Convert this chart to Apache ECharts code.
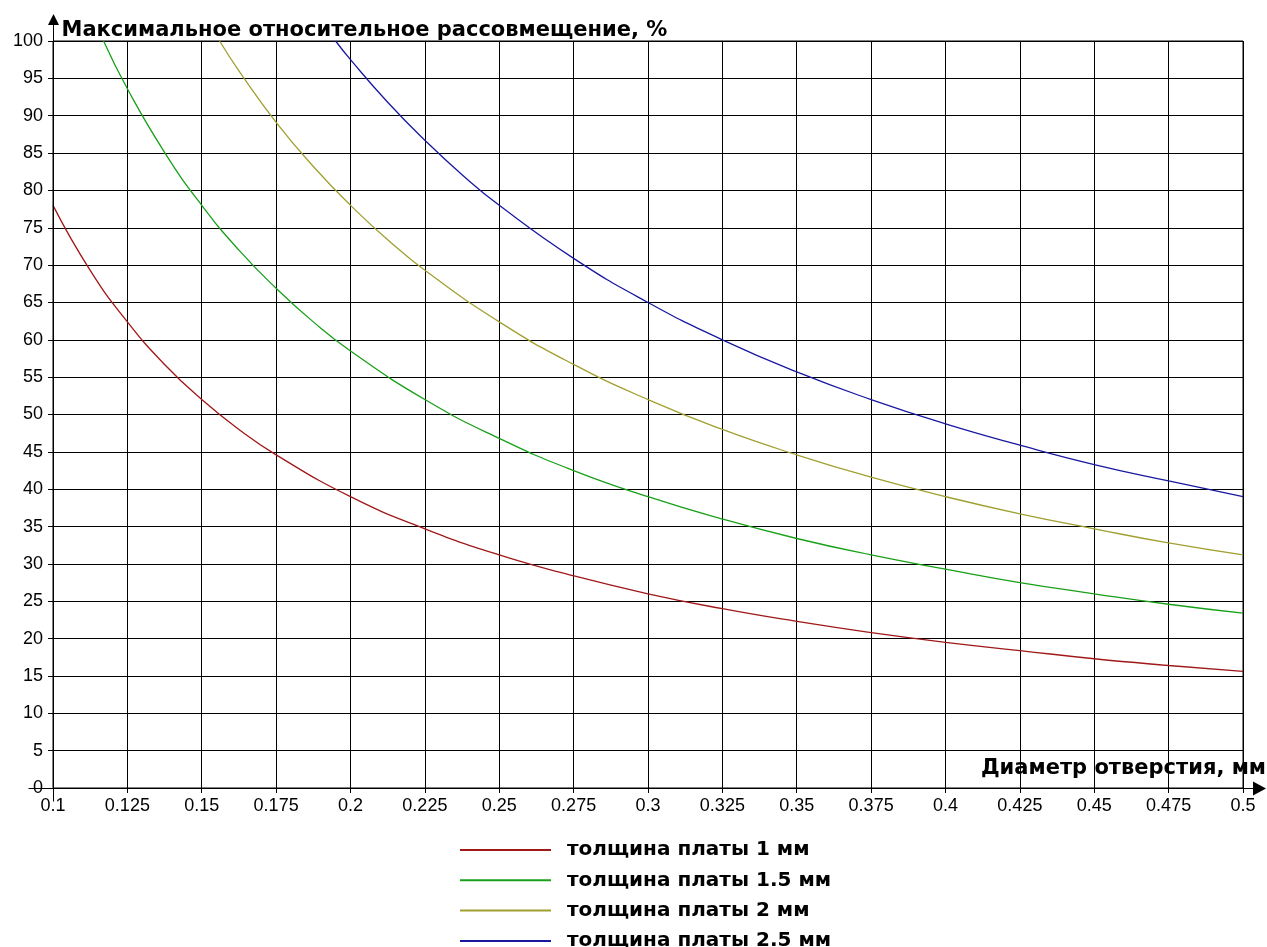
<!DOCTYPE html>
<html>
<head>
<meta charset="utf-8">
<script src="https://cdn.jsdelivr.net/npm/echarts@6/dist/echarts.min.js"></script>
<style>
html,body{margin:0;padding:0;background:#fff;}
#chart{width:1267px;height:947px;}
</style>
</head>
<body>
<div id="chart"></div>
<script>
// ---- data ----
const seriesNames = ['толщина платы 1 мм', 'толщина платы 1.5 мм', 'толщина платы 2 мм', 'толщина платы 2.5 мм'];
const seriesColors = ['#a01818', '#18a018', '#a0a030', '#1818a0'];

const x1 = [0.1, 0.1125, 0.125, 0.1375, 0.15, 0.1625, 0.175, 0.2, 0.225, 0.25, 0.275, 0.3, 0.325, 0.35, 0.375, 0.4, 0.425, 0.45, 0.475, 0.5];
const y1 = [78, 69.3, 62.4, 56.7, 52, 48, 44.6, 39, 34.7, 31.2, 28.4, 26, 24, 22.3, 20.8, 19.5, 18.4, 17.3, 16.4, 15.6];

const x15 = [0.117, 0.125, 0.1375, 0.15, 0.1625, 0.175, 0.1875, 0.2, 0.225, 0.25, 0.275, 0.3, 0.325, 0.35, 0.375, 0.4, 0.425, 0.45, 0.475, 0.5];
const y15 = [100, 93.6, 85.1, 78, 72, 66.9, 62.4, 58.5, 52, 46.8, 42.5, 39, 36, 33.4, 31.2, 29.3, 27.5, 26, 24.6, 23.4];

const x2 = [0.156, 0.1625, 0.175, 0.1875, 0.2, 0.2125, 0.225, 0.25, 0.275, 0.3, 0.325, 0.35, 0.375, 0.4, 0.425, 0.45, 0.475, 0.5];
const y2 = [100, 96, 89.1, 83.2, 78, 73.4, 69.3, 62.4, 56.7, 52, 48, 44.6, 41.6, 39, 36.7, 34.7, 32.8, 31.2];

const x25 = [0.195, 0.2, 0.2125, 0.225, 0.2375, 0.25, 0.275, 0.3, 0.325, 0.35, 0.375, 0.4, 0.425, 0.45, 0.475, 0.5];
const y25 = [100, 97.5, 91.8, 86.7, 82.1, 78, 70.9, 65, 60, 55.7, 52, 48.75, 45.9, 43.3, 41.1, 39];

const xTicks = {min: 0.1, max: 0.5, step: 0.025};
const yTicks = {min: 0, max: 100, step: 5};

const yTitle = 'Максимальное относительное рассовмещение, %';
const xTitle = 'Диаметр отверстия, мм';

// ---- chart ----
const zip = (xs, ys) => xs.map((x, i) => [x, ys[i]]);
const allData = [zip(x1, y1), zip(x15, y15), zip(x2, y2), zip(x25, y25)];

const chart = echarts.init(document.getElementById('chart'), null, {renderer: 'canvas'});
const labelFont = {fontFamily: 'Liberation Sans', fontSize: 18, color: '#000'};
const boldFont = {fontFamily: 'DejaVu Sans', fontWeight: 'bold', fontSize: 21, fill: '#000'};

chart.setOption({
  animation: false,
  backgroundColor: '#fff',
  grid: {left: 53, right: 24, top: 41, bottom: 159, show: true, borderColor: '#000', borderWidth: 1, containLabel: false},
  xAxis: {
    type: 'value', min: xTicks.min, max: xTicks.max, interval: xTicks.step,
    axisLine: {show: true, lineStyle: {color: '#000', width: 1}},
    axisTick: {show: true, length: 5, lineStyle: {color: '#000'}},
    axisLabel: Object.assign({margin: 9, formatter: v => String(+v.toFixed(3))}, labelFont),
    splitLine: {show: true, lineStyle: {color: '#000', width: 1}}
  },
  yAxis: {
    type: 'value', min: yTicks.min, max: yTicks.max, interval: yTicks.step,
    axisLine: {show: true, lineStyle: {color: '#000', width: 1}},
    axisTick: {show: true, length: 5, lineStyle: {color: '#000'}},
    axisLabel: Object.assign({margin: 10}, labelFont),
    splitLine: {show: true, lineStyle: {color: '#000', width: 1}}
  },
  legend: {
    orient: 'vertical', left: 459, top: 840, height: 300, padding: 0,
    itemWidth: 91, itemHeight: 16, itemGap: 10.3,
    itemStyle: {opacity: 0},
    lineStyle: {width: 2},
    textStyle: {fontFamily: 'DejaVu Sans', fontWeight: 'bold', fontSize: 20, color: '#000', padding: [0, 0, 0, 11]},
    data: seriesNames
  },
  series: allData.map((d, i) => ({
    name: seriesNames[i], type: 'line', data: d, symbol: 'none', smooth: 0.5,
    clip: true,
    lineStyle: {color: seriesColors[i], width: 1.3}, itemStyle: {color: seriesColors[i]}
  }))
});

// decorations: extended axes with arrows and axis names
const o = chart.convertToPixel({gridIndex: 0}, [xTicks.min, yTicks.min]);
const tr = chart.convertToPixel({gridIndex: 0}, [xTicks.max, yTicks.max]);
const ox = Math.round(o[0]) + 0.5, oy = Math.round(o[1]) + 0.5;
chart.setOption({
  graphic: [
    {type: 'line', shape: {x1: ox, y1: oy + 13, x2: ox, y2: tr[1] - 20}, style: {stroke: '#000', lineWidth: 1}, z: 100},
    {type: 'polygon', shape: {points: [[ox, tr[1] - 27], [ox - 5.5, tr[1] - 16], [ox + 5.5, tr[1] - 16]]}, style: {fill: '#000'}, z: 100},
    {type: 'line', shape: {x1: ox - 25, y1: oy, x2: tr[0] + 12, y2: oy}, style: {stroke: '#000', lineWidth: 1}, z: 100},
    {type: 'polygon', shape: {points: [[tr[0] + 23, oy], [tr[0] + 10, oy - 7], [tr[0] + 10, oy + 7]]}, style: {fill: '#000'}, z: 100},
    {type: 'text', x: ox + 8, y: tr[1] - 10, style: Object.assign({text: yTitle, verticalAlign: 'middle'}, boldFont), z: 100},
    {type: 'text', x: 1266, y: oy - 20, style: Object.assign({text: xTitle, align: 'right', verticalAlign: 'middle'}, boldFont), z: 100}
  ]
});
</script>
</body>
</html>
